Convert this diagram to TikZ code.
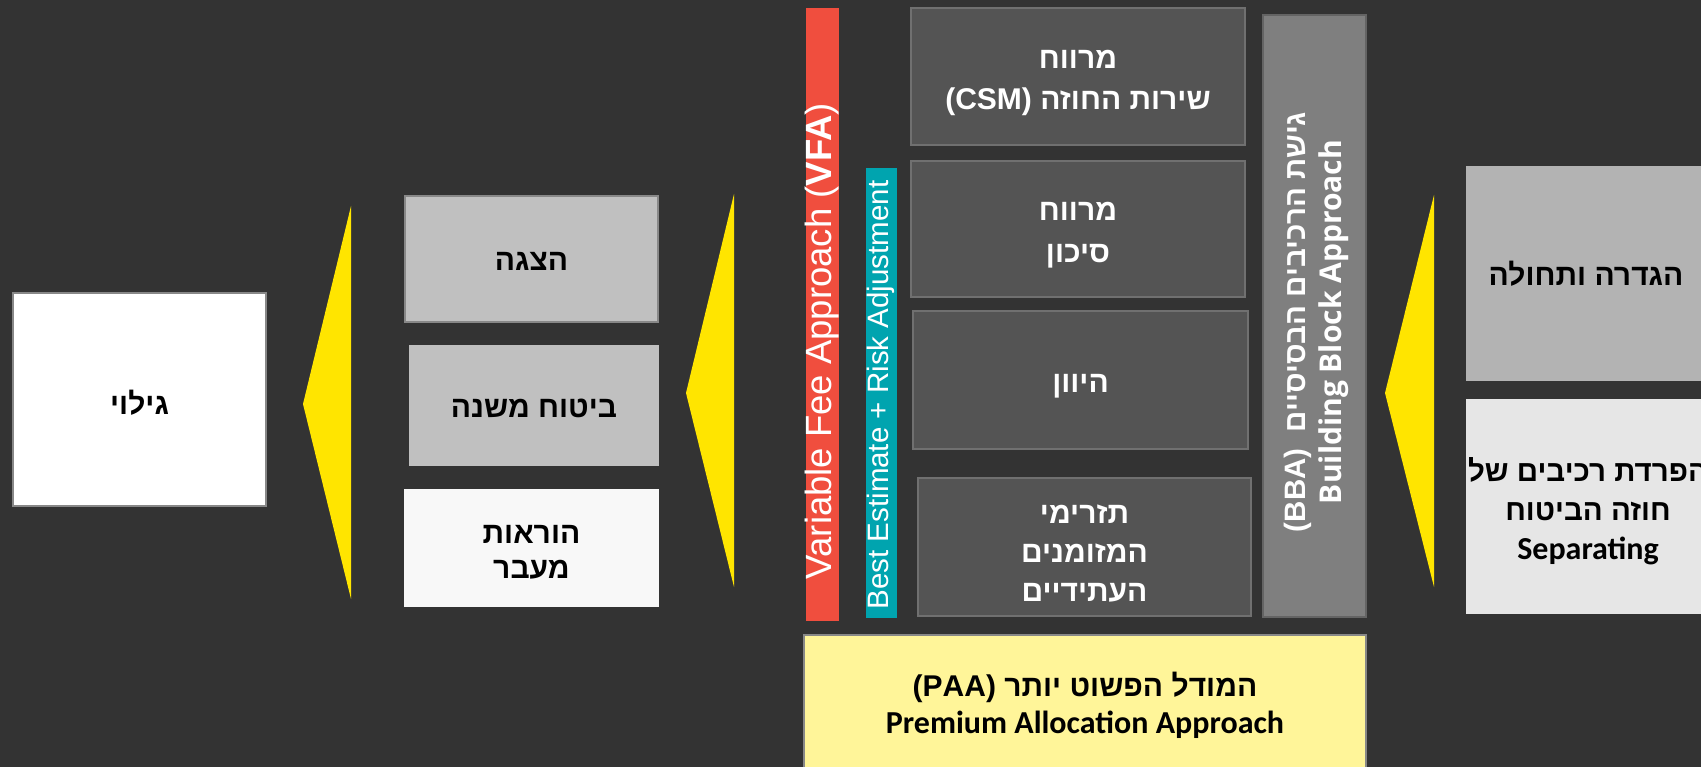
\documentclass[tikz,border=0pt]{standalone}
\usepackage{fontspec}
\setmainfont{Liberation Sans}
\newfontfamily\hebfont[Script=Hebrew]{Liberation Sans}
\newfontfamily\califont{Carlito}
\newfontfamily\opensansfont{Open Sans}
\TeXXeTstate=1
\newcommand\hb[1]{\beginR #1\endR}
\newcommand\lrchunk[1]{\beginL #1\endL{}}
\definecolor{bgc}{RGB}{51,51,51}
\definecolor{redbar}{RGB}{240,78,62}
\definecolor{tealbar}{RGB}{0,164,175}
\definecolor{darkfill}{RGB}{84,84,84}
\definecolor{darkedge}{RGB}{112,112,112}
\definecolor{bbafill}{RGB}{127,127,127}
\definecolor{bbaedge}{RGB}{100,100,100}
\definecolor{paafill}{RGB}{255,245,153}
\definecolor{tri}{RGB}{255,229,0}
\definecolor{gA}{RGB}{179,179,179}
\definecolor{gB}{RGB}{192,192,192}
\definecolor{gC}{RGB}{230,230,230}
\definecolor{gD}{RGB}{248,248,248}
\definecolor{edgegray}{RGB}{136,136,136}
\tikzset{
  box/.style={draw=edgegray, line width=1.2, inner sep=0pt},
  darkbx/.style={box, fill=darkfill, draw=darkedge},
  btext/.style={inner sep=0pt, align=center, text=black,
    font=\hebfont\bfseries\fontsize{30}{40}\selectfont},
  wtext/.style={btext, text=white},
  vtext/.style={rotate=90, text=white, inner sep=0pt, align=center},
  arrowtri/.style={fill=tri}
}
\begin{document}
\begin{tikzpicture}[x=1pt,y=-1pt]
\clip (0,0) rectangle (1701,767);
\fill[bgc] (0,0) rectangle (1701,767);

% vertical bars
\node[fill=redbar, minimum width=33, minimum height=613, inner sep=0pt] (vfabar) at (822.5,314.5) {};
\node[vtext, font=\fontsize{36.5}{40}\selectfont] (vfa) at (822,341) {Variable Fee Approach (\textbf{VFA})};
\node[fill=tealbar, minimum width=31, minimum height=450, inner sep=0pt] (bebar) at (881.5,393) {};
\node[vtext, font=\fontsize{29.5}{34}\selectfont] (best) at (881,395) {Best Estimate + Risk Adjustment};

% building blocks
\node[darkbx, minimum width=334, minimum height=137] (csm) at (1078,76.5) {};
\node[wtext, font=\hebfont\bfseries\fontsize{30}{41}\selectfont] (csmtxt) at ([yshift=-6.5pt]csm.center)
  {\hb{מרווח}\\\hb{שירות החוזה \lrchunk{(CSM)}}};
\node[darkbx, minimum width=334, minimum height=136] (risk) at (1078,229) {};
\node[wtext, font=\hebfont\bfseries\fontsize{30}{42}\selectfont] (risktxt) at ([yshift=-6.5pt]risk.center)
  {\hb{מרווח}\\\hb{סיכון}};
\node[darkbx, minimum width=335, minimum height=138] (disc) at (1080.5,380) {};
\node[wtext] (disctxt) at ([yshift=-6.5pt]disc.center) {\hb{היוון}};
\node[darkbx, minimum width=333, minimum height=138] (cf) at (1084.5,547) {};
\node[wtext, font=\hebfont\bfseries\fontsize{30}{39}\selectfont] (cftxt) at ([yshift=-6.5pt]cf.center)
  {\hb{תזרימי}\\\hb{המזומנים}\\\hb{העתידיים}};

\node[fill=bbafill, draw=bbaedge, line width=1.2, minimum width=103, minimum height=602, inner sep=0pt] (bba) at (1314.5,316) {};
\node[vtext, font=\fontsize{29.5}{36}\selectfont] (bbatxt) at (1316,322)
  {{\hebfont\bfseries\hb{גישת הרכיבים הבסיסיים \ \lrchunk{(BBA)}}}\\{\opensansfont\bfseries\fontsize{30}{36}\selectfont Building Block Approach}};

\node[box, fill=paafill, minimum width=562, minimum height=140] (paa) at (1085,705) {};
\node[btext, font=\hebfont\bfseries\fontsize{30}{37}\selectfont] (paatxt) at (paa.center)
  {\hb{המודל הפשוט יותר \lrchunk{(PAA)}}\\{\califont\fontsize{32}{37}\selectfont Premium Allocation Approach}};

% right boxes
\node[box, fill=gA, draw=gA, minimum width=238, minimum height=213] (scope) at (1586,273.5) {};
\node[btext] (scopetxt) at (scope.center) {\hb{הגדרה ותחולה}};
\node[box, fill=gC, draw=gC, minimum width=238, minimum height=213] (sep) at (1586,506.5) {};
\node[btext, font=\hebfont\bfseries\fontsize{29.5}{39}\selectfont] (septxt) at ([xshift=2pt,yshift=-5pt]sep.center)
  {\hb{הפרדת רכיבים של}\\\hb{חוזה הביטוח}\\{\califont\fontsize{32}{39}\selectfont Separating}};

% middle boxes
\node[box, fill=gB, minimum width=253, minimum height=126] (pres) at (531.5,259) {};
\node[btext] (prestxt) at ([yshift=-2.5pt]pres.center) {\hb{הצגה}};
\node[box, fill=gB, draw=gB, minimum width=248, minimum height=119] (reins) at (534,405.5) {};
\node[btext] (reinstxt) at ([yshift=-3pt]reins.center) {\hb{ביטוח משנה}};
\node[box, fill=gD, draw=gD, minimum width=253, minimum height=116] (trans) at (531.5,548) {};
\node[btext, font=\hebfont\bfseries\fontsize{30}{35}\selectfont] (transtxt) at ([yshift=-4pt]trans.center)
  {\hb{הוראות}\\\hb{מעבר}};

% left box
\node[box, fill=white, draw=edgegray, minimum width=253, minimum height=213] (discl) at (139.5,399.5) {};
\node[btext] (discltxt) at ([yshift=-3pt]discl.center) {\hb{גילוי}};

% yellow arrow triangles
\fill[arrowtri] (1385,393) -- (1434,195) -- (1434,587) -- cycle;
\fill[arrowtri] (686,393) -- (734,194) -- (734,587) -- cycle;
\fill[arrowtri] (303,404) -- (351,206) -- (351,599) -- cycle;
\end{tikzpicture}
\end{document}
